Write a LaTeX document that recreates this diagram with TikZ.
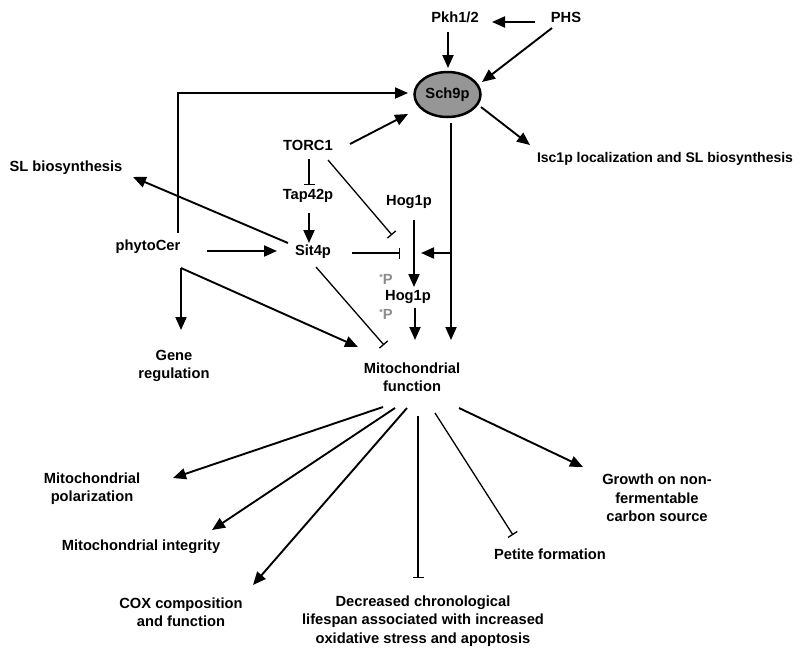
\documentclass[tikz,border=0pt]{standalone}
\usepackage{fontspec}
\setmainfont{Liberation Sans}
\usetikzlibrary{arrows.meta,shapes.geometric}
\definecolor{ellfill}{RGB}{150,150,150}
\definecolor{pgrey}{RGB}{140,140,140}
\begin{document}
\begin{tikzpicture}[x=1pt,y=-1pt,
  lbl/.style={inner sep=0pt,font=\fontsize{14.7}{18.3}\selectfont\bfseries,align=center},
  arr/.style={line width=1.9pt,-{Triangle[length=13pt,width=11pt]}},
  inh/.style={line width=1.3pt,-{Bar[width=11pt,line width=1.3pt]}},
  ptag/.style={inner sep=0pt,text=pgrey,font=\fontsize{14.7}{16}\selectfont\bfseries}]
\useasboundingbox (0,0) rectangle (800,656);
% nodes
\node[lbl] (pkh) at (455,17) {Pkh1/2};
\node[lbl] (phs) at (566,17) {PHS};
\node[ellipse,draw,line width=2.5pt,fill=ellfill,minimum width=66pt,minimum height=45pt,inner sep=0pt,
      font=\fontsize{14.7}{18}\selectfont\bfseries] (sch) at (447.5,94.5) {Sch9p};
\node[lbl] (torc) at (308,145) {TORC1};
\node[lbl] (tap) at (308,196) {Tap42p};
\node[lbl] (sit) at (313,252) {Sit4p};
\node[lbl] (hog1) at (409,202) {Hog1p};
\node[lbl] (hog2) at (408,297) {Hog1p};
\node[ptag] (pa) at (386,279) {\raisebox{4pt}{\fontsize{9}{9}\selectfont *}P};
\node[ptag] (pb) at (386,314) {\raisebox{4pt}{\fontsize{9}{9}\selectfont *}P};
\node[lbl] (phyto) at (148,247) {phytoCer};
\node[lbl] (sl) at (66,168) {SL biosynthesis};
\node[lbl,font=\fontsize{14}{18}\selectfont\bfseries] (isc) at (665,159) {Isc1p localization and SL biosynthesis};
\node[lbl] (gene) at (174,366) {Gene\\regulation};
\node[lbl] (mito) at (412,377) {Mitochondrial\\function};
\node[lbl] (pol) at (92,489) {Mitochondrial\\polarization};
\node[lbl] (integ) at (141,547) {Mitochondrial integrity};
\node[lbl] (cox) at (181,612) {COX composition\\and function};
\node[lbl] (dec) at (423,621) {Decreased chronological\\lifespan associated with increased\\oxidative stress and apoptosis};
\node[lbl] (petite) at (550,554) {Petite formation};
\node[lbl] (growth) at (657,498) {Growth on non-\\fermentable\\carbon source};
% connector end points
\coordinate (phsW) at (535,22);
\coordinate (pkhE) at (492,22);
\coordinate (pkhS) at (448,32);
\coordinate (schN) at (448,68);
\coordinate (phsSW) at (552,28);
\coordinate (schNE) at (482,82);
\coordinate (phyN) at (178,233);
\coordinate (corner) at (178,93);
\coordinate (schW) at (408,93);
\coordinate (torcE) at (350,144);
\coordinate (schSW) at (408,114);
\coordinate (schSE) at (481,107);
\coordinate (iscNW) at (530,145);
\coordinate (schS) at (451,123);
\coordinate (junc) at (451,253);
\coordinate (joinE) at (421,253);
\coordinate (mitoN3) at (451,340);
\coordinate (torcS) at (309,159);
\coordinate (tapN) at (309,185);
\coordinate (tapS) at (309,213);
\coordinate (sitN) at (309,243);
\coordinate (torcSE) at (328,160);
\coordinate (blk1) at (392,235);
\coordinate (sitE) at (352,253);
\coordinate (blk2) at (400,253);
\coordinate (hog1S) at (414,220);
\coordinate (hog2N) at (414,287);
\coordinate (hog2S) at (415,308);
\coordinate (mitoN2) at (415,340);
\coordinate (phyE) at (207,251);
\coordinate (sitW) at (277,251);
\coordinate (sitNW) at (288,243);
\coordinate (slE) at (133,177);
\coordinate (phyS) at (181,268);
\coordinate (geneN) at (181,330);
\coordinate (mitoNW) at (358,347);
\coordinate (sitS) at (316,267);
\coordinate (mitoN1) at (384,345);
\coordinate (m1) at (383,407);
\coordinate (m2) at (395,408);
\coordinate (m3) at (407,408);
\coordinate (m4) at (418,416);
\coordinate (m5) at (435,413);
\coordinate (m6) at (459,408);
\coordinate (polE) at (173,478);
\coordinate (integN) at (212,530);
\coordinate (coxN) at (253,585);
\coordinate (decN) at (418,578);
\coordinate (petN) at (513,535);
\coordinate (growN) at (583,467);
% connectors
\draw[arr] (phsW) -- (pkhE);
\draw[arr] (pkhS) -- (schN);
\draw[arr] (phsSW) -- (schNE);
\draw[arr] (phyN) -- (corner) -- (schW);
\draw[arr] (torcE) -- (schSW);
\draw[arr] (schSE) -- (iscNW);
\draw[arr] (schS) -- (mitoN3);
\draw[arr] (junc) -- (joinE);
\draw[inh] (torcS) -- (tapN);
\draw[arr] (tapS) -- (sitN);
\draw[inh] (torcSE) -- (blk1);
\draw[inh] (sitE) -- (blk2);
\draw[arr] (hog1S) -- (hog2N);
\draw[arr] (hog2S) -- (mitoN2);
\draw[arr] (phyE) -- (sitW);
\draw[arr] (sitNW) -- (slE);
\draw[arr] (phyS) -- (geneN);
\draw[arr] (phyS) -- (mitoNW);
\draw[inh] (sitS) -- (mitoN1);
\draw[arr] (m1) -- (polE);
\draw[arr] (m2) -- (integN);
\draw[arr] (m3) -- (coxN);
\draw[inh] (m4) -- (decN);
\draw[inh] (m5) -- (petN);
\draw[arr] (m6) -- (growN);
\end{tikzpicture}
\end{document}
